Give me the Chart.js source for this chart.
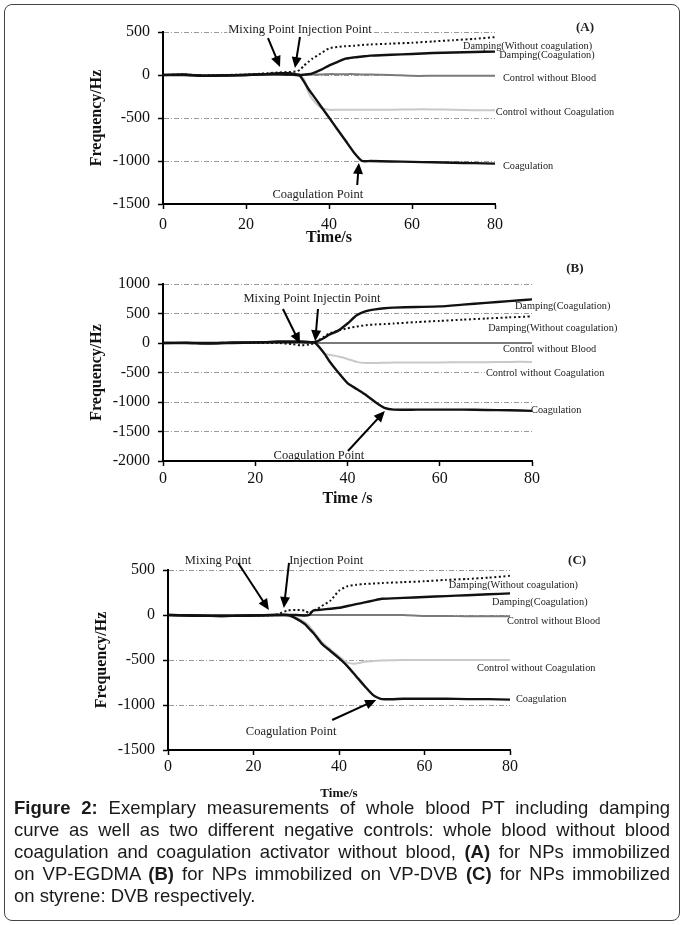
<!DOCTYPE html>
<html>
<head>
<meta charset="utf-8">
<script src="https://cdn.jsdelivr.net/npm/chart.js@4/dist/chart.umd.min.js"></script>
<style>
body{margin:0;background:#fff;}
#page{position:relative;width:684px;height:925px;overflow:hidden;background:#fff;}
#frame{position:absolute;left:4px;top:4px;width:674px;height:915px;border:1px solid #444;border-radius:8px;}
canvas{position:absolute;left:0;}
#caption{position:absolute;left:14px;top:797px;width:656px;font-family:'Liberation Sans',Arial,sans-serif;font-size:18.5px;line-height:22px;color:#1a1a1a;}
.ln{text-align:justify;text-align-last:justify;}
.ln.last{text-align-last:left;}
</style>
</head>
<body>
<div id="page">
  <div id="frame"></div>
  <canvas id="chartA" width="684" height="248" style="top:0px"></canvas>
  <canvas id="chartB" width="684" height="262" style="top:250px"></canvas>
  <canvas id="chartC" width="684" height="262" style="top:540px"></canvas>
  <div id="caption">
    <div class="ln"><b>Figure 2:</b> Exemplary measurements of whole blood PT including damping</div>
    <div class="ln">curve as well as two different negative controls: whole blood without blood</div>
    <div class="ln">coagulation and coagulation activator without blood, <b>(A)</b> for NPs immobilized</div>
    <div class="ln">on VP-EGDMA <b>(B)</b> for NPs immobilized on VP-DVB <b>(C)</b> for NPs immobilized</div>
    <div class="ln last">on styrene: DVB respectively.</div>
  </div>
</div>
<script>
// time axis (s), shared by all curves
const T = [0,5,10,15,20,25,28,30,32,33,34,35,36,38,40,42,44,46,48,50,55,60,65,70,75,80];

// ---- (A) VP-EGDMA
const coagA       = [0,5,-10,-5,0,10,10,5,0,-10,-80,-160,-225,-360,-495,-630,-765,-900,-1000,-1000,-1005,-1010,-1015,-1020,-1025,-1030];
const ctrlCoagA   = [0,5,-5,0,5,10,15,15,10,0,-50,-200,-280,-380,-405,-405,-405,-405,-405,-405,-405,-400,-400,-405,-410,-410];
const ctrlBloodA  = [0,0,0,0,0,0,0,0,0,0,0,0,5,5,10,10,10,10,5,5,0,-10,-10,-10,-10,-10];
const dampCoagA   = [0,0,-10,-5,0,10,20,20,10,0,5,10,20,60,110,150,190,205,215,225,235,245,255,262,268,272];
const dampFreeA   = [0,5,-5,0,5,20,30,35,40,60,110,150,190,250,310,325,335,340,350,355,365,375,390,405,420,440];

// ---- (B) VP-DVB
const coagB       = [0,0,-10,0,10,20,20,20,15,0,-80,-180,-300,-500,-680,-780,-880,-1000,-1100,-1130,-1130,-1130,-1130,-1135,-1140,-1150];
const ctrlCoagB   = [0,0,0,0,0,0,0,0,0,0,-100,-180,-200,-230,-270,-320,-340,-340,-335,-330,-330,-330,-325,-325,-320,-320];
const ctrlBloodB  = [0,0,0,0,0,0,0,0,0,0,0,0,0,0,0,0,0,0,0,0,0,0,0,0,0,0];
const dampCoagB   = [0,5,0,10,10,20,20,20,15,20,50,90,140,210,330,470,540,570,590,600,610,620,650,680,710,740];
const dampFreeB   = [0,0,0,0,0,0,-20,-40,-20,0,60,110,160,210,250,280,300,315,320,330,355,375,395,415,435,450];

// ---- (C) styrene:DVB
const coagC       = [0,-5,-10,-10,-5,0,0,-40,-100,-150,-200,-260,-320,-400,-480,-570,-680,-790,-890,-935,-930,-930,-930,-935,-935,-940];
const ctrlCoagC   = [0,-5,-10,-10,-5,-5,-10,-30,-80,-120,-180,-240,-300,-380,-460,-530,-540,-520,-510,-505,-500,-500,-500,-500,-500,-500];
const ctrlBloodC  = [0,0,0,0,0,0,0,0,0,0,0,0,0,0,0,0,0,0,0,0,0,-10,-10,-15,-15,-15];
const dampCoagC   = [0,-5,-10,-10,-5,0,0,0,-5,0,50,55,60,70,80,100,120,140,160,180,190,200,210,220,230,240];
const dampFreeC   = [0,-5,-10,-10,-5,0,50,55,50,20,50,70,100,160,270,320,335,345,350,355,365,375,390,400,415,435];

// text + arrows in data units
const notesA = [
  {t:'Mixing Point Injection Point', x:33, y:523, size:12.5, bg:true},
  {arrow:[25.3,430,28.2,93]},
  {arrow:[33,442,31.8,81]},
  {t:'Coagulation Point', x:37.3, y:-1395, size:12.5},
  {arrow:[46.8,-1279,47.2,-1023]},
  {t:'Damping(Without coagulation)', x:72.3, y:337, left:true},
  {t:'Damping(Coagulation)', x:81, y:233, left:true},
  {t:'Control without Blood', x:81.9, y:-35, left:true},
  {t:'Control without Coagulation', x:80.2, y:-430, left:true},
  {t:'Coagulation', x:81.9, y:-1058, left:true},
  {t:'(A)', x:101.7, y:547, size:13, bold:true}
];
const notesB = [
  {t:'Mixing Point Injectin Point', x:32.3, y:746, size:12.5},
  {arrow:[26,576,29.7,-10]},
  {arrow:[33.6,576,33,30]},
  {t:'Coagulation Point', x:33.8, y:-1915, size:12.5},
  {arrow:[40.1,-1830,48.1,-1153]},
  {t:'Damping(Coagulation)', x:76.3, y:627, left:true},
  {t:'Damping(Without coagulation)', x:70.5, y:254, left:true},
  {t:'Control without Blood', x:73.7, y:-102, left:true},
  {t:'Control without Coagulation', x:70, y:-508, left:true, bg:true},
  {t:'Coagulation', x:79.8, y:-1136, left:true},
  {t:'(B)', x:89.3, y:1254, size:13, bold:true}
];
const notesC = [
  {t:'Mixing Point', x:11.7, y:600, size:12.5},
  {t:'Injection Point', x:37, y:600, size:12.5},
  {arrow:[16.4,578,23.6,56]},
  {arrow:[28.3,578,27.1,78]},
  {t:'Coagulation Point', x:28.8, y:-1300, size:12.5},
  {arrow:[38.4,-1167,48.7,-944]},
  {t:'Damping(Without coagulation)', x:65.7, y:333, left:true},
  {t:'Damping(Coagulation)', x:75.8, y:144, left:true},
  {t:'Control without Blood', x:79.3, y:-67, left:true},
  {t:'Control without Coagulation', x:72.3, y:-589, left:true},
  {t:'Coagulation', x:81.4, y:-933, left:true},
  {t:'(C)', x:95.7, y:600, size:13, bold:true}
];

const SERIF = "'Liberation Serif','Times New Roman',serif";

const notesPlugin = {
  id: 'notes',
  afterDatasetsDraw(chart, args, opts) {
    const ctx = chart.ctx, xs = chart.scales.x, ys = chart.scales.y;
    ctx.save();
    (opts.items || []).forEach(n => {
      if (n.arrow) {
        const x1 = xs.getPixelForValue(n.arrow[0]), y1 = ys.getPixelForValue(n.arrow[1]);
        const x2 = xs.getPixelForValue(n.arrow[2]), y2 = ys.getPixelForValue(n.arrow[3]);
        const a = Math.atan2(y2 - y1, x2 - x1);
        ctx.strokeStyle = '#000'; ctx.fillStyle = '#000'; ctx.lineWidth = 2;
        ctx.beginPath();
        ctx.moveTo(x1, y1);
        ctx.lineTo(x2 - 6 * Math.cos(a), y2 - 6 * Math.sin(a));
        ctx.stroke();
        ctx.beginPath();
        ctx.moveTo(x2, y2);
        ctx.lineTo(x2 - 11 * Math.cos(a) + 5 * Math.sin(a), y2 - 11 * Math.sin(a) - 5 * Math.cos(a));
        ctx.lineTo(x2 - 11 * Math.cos(a) - 5 * Math.sin(a), y2 - 11 * Math.sin(a) + 5 * Math.cos(a));
        ctx.closePath();
        ctx.fill();
        return;
      }
      const size = n.size || 10.3;
      const px = xs.getPixelForValue(n.x), py = ys.getPixelForValue(n.y);
      ctx.font = (n.bold ? 'bold ' : '') + size + 'px ' + SERIF;
      ctx.textAlign = n.left ? 'left' : 'center';
      ctx.textBaseline = 'middle';
      if (n.bg) {
        const w = ctx.measureText(n.t).width;
        const lx = n.left ? px : px - w / 2;
        ctx.fillStyle = '#fff';
        ctx.fillRect(lx - 1, py - size / 2 - 1, w + 2, size + 2);
      }
      ctx.fillStyle = '#222';
      ctx.fillText(n.t, px, py);
    });
    ctx.restore();
  }
};

function series(label, vals, color, width, dash) {
  return {
    label: label,
    data: T.map((t, i) => ({x: t, y: vals[i]})),
    borderColor: color,
    borderWidth: width,
    borderDash: dash,
    pointRadius: 0,
    tension: 0.2,
    fill: false
  };
}

function makeChart(id, c) {
  return new Chart(document.getElementById(id), {
    type: 'line',
    data: {
      datasets: [
        series('Coagulation', c.coag, '#111', 2.4, []),
        series('Damping(Coagulation)', c.dampCoag, '#111', 2.4, []),
        series('Damping(Without coagulation)', c.dampFree, '#111', 2, [2, 2.5]),
        series('Control without Blood', c.ctrlBlood, '#7a7a7a', 2, []),
        series('Control without Coagulation', c.ctrlCoag, '#c9c9c9', 2, [])
      ]
    },
    options: {
      responsive: false,
      animation: false,
      layout: {padding: c.pad},
      plugins: {legend: {display: false}, tooltip: {enabled: false}, notes: {items: c.notes}},
      scales: {
        x: {
          type: 'linear', min: 0, max: 80,
          afterFit: s => { s.height = c.xh; },
          ticks: {stepSize: 20, color: '#111', padding: c.xpad, font: {family: SERIF, size: 16}},
          grid: {drawOnChartArea: false, tickLength: 5, tickColor: '#000', tickWidth: 1.5},
          border: {color: '#000', width: 2},
          title: {display: true, text: c.xTitle, color: '#111', padding: {top: 0, bottom: 0},
                  font: {family: SERIF, size: c.xTitleSize, weight: 'bold'}}
        },
        y: {
          min: c.ymin, max: c.ymax,
          afterFit: s => { s.width = 80; },
          ticks: {stepSize: 500, color: '#111', padding: 8, font: {family: SERIF, size: 16},
                  callback: v => String(v)},
          grid: {
            color: ctx => (ctx.tick && ctx.tick.value === c.ymin) ? 'rgba(0,0,0,0)' : '#9a9a9a',
            lineWidth: 1, tickLength: 5, tickColor: '#000', tickWidth: 1.5
          },
          border: {color: '#000', width: 2, dash: [5, 2, 1, 2]},
          title: {display: true, text: 'Frequency/Hz', color: '#111', padding: {top: 4, bottom: 4},
                  font: {family: SERIF, size: 16, weight: 'bold'}}
        }
      }
    },
    plugins: [notesPlugin]
  });
}

makeChart('chartA', {
  coag: coagA, dampCoag: dampCoagA, dampFree: dampFreeA, ctrlBlood: ctrlBloodA, ctrlCoag: ctrlCoagA,
  ymin: -1500, ymax: 500, xTitle: 'Time/s', xTitleSize: 16, xh: 43, xpad: 6,
  pad: {left: 83, right: 189, top: 32, bottom: 1}, notes: notesA
});
makeChart('chartB', {
  coag: coagB, dampCoag: dampCoagB, dampFree: dampFreeB, ctrlBlood: ctrlBloodB, ctrlCoag: ctrlCoagB,
  ymin: -2000, ymax: 1000, xTitle: 'Time /s', xTitleSize: 16, xh: 47, xpad: 3,
  pad: {left: 83, right: 152, top: 34, bottom: 4}, notes: notesB
});
makeChart('chartC', {
  coag: coagC, dampCoag: dampCoagC, dampFree: dampFreeC, ctrlBlood: ctrlBloodC, ctrlCoag: ctrlCoagC,
  ymin: -1500, ymax: 500, xTitle: 'Time/s', xTitleSize: 13, xh: 51, xpad: 2,
  pad: {left: 88, right: 174, top: 30, bottom: 1}, notes: notesC
});
</script>
</body>
</html>
